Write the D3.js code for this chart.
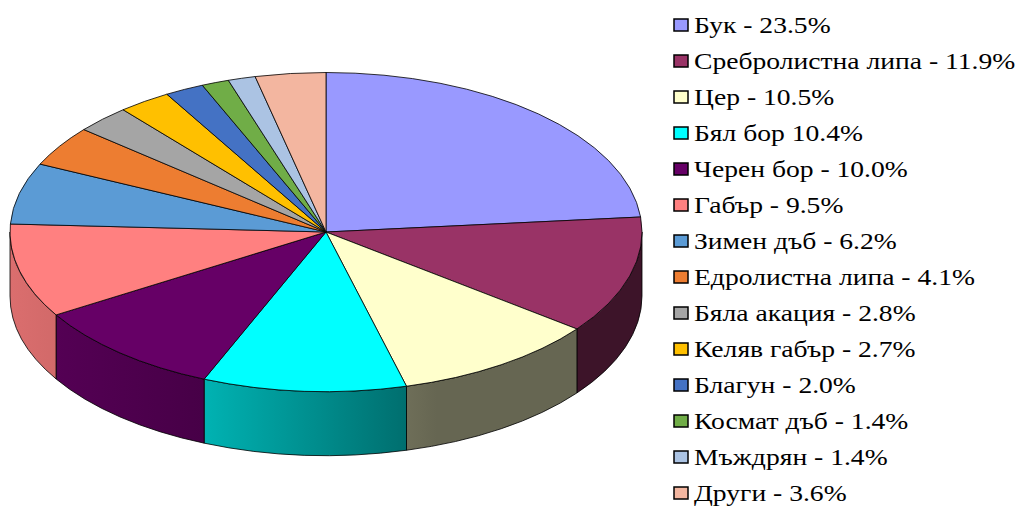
<!DOCTYPE html>
<html>
<head>
<meta charset="utf-8">
<script src="https://cdn.jsdelivr.net/npm/d3@7"></script>
</head>
<body style="margin:0">
<div id="chart"></div>
<script>
const species = ["Бук", "Сребролистна липа", "Цер", "Бял бор", "Черен бор", "Габър", "Зимен дъб",
    "Едролистна липа", "Бяла акация", "Келяв габър", "Благун", "Космат дъб", "Мъждрян", "Други"];
const shares = [23.5, 11.9, 10.5, 10.4, 10.0, 9.5, 6.2, 4.1, 2.8, 2.7, 2.0, 1.4, 1.4, 3.6];
// legend texts as printed (note "Бял бор" has no dash)
const legendLabels = ["Бук - 23.5%", "Сребролистна липа - 11.9%", "Цер - 10.5%", "Бял бор 10.4%",
    "Черен бор - 10.0%", "Габър - 9.5%", "Зимен дъб - 6.2%", "Едролистна липа - 4.1%",
    "Бяла акация - 2.8%", "Келяв габър - 2.7%", "Благун - 2.0%", "Космат дъб - 1.4%",
    "Мъждрян - 1.4%", "Други - 3.6%"];
const colors = ["#9999ff", "#993366", "#ffffcc", "#00ffff", "#660066", "#ff8080", "#5b9bd5",
    "#ed7d31", "#a5a5a5", "#ffc000", "#4472c4", "#70ad47", "#abc3e3", "#f3b6a0"];

const W = 1024, H = 508;
const cx = 326, cy = 232, rx = 316, ry = 159.5, depth = 64;

const svg = d3.select("#chart").append("svg")
    .attr("width", W)
    .attr("height", H);

const color = d3.scaleOrdinal().domain(species).range(colors);

const pie = d3.pie().sort(null).value((d, i) => shares[i]);
const arcs = pie(species);

// project an angle (clockwise from 12 o'clock) onto the tilted ellipse
function pt(a, dy) {
    return [cx + rx * Math.sin(a), cy - ry * Math.cos(a) + (dy || 0)];
}

function topPath(d) {
    const p0 = pt(d.startAngle), p1 = pt(d.endAngle);
    const large = d.endAngle - d.startAngle > Math.PI ? 1 : 0;
    return `M${cx},${cy}L${p0}A${rx},${ry} 0 ${large} 1 ${p1}Z`;
}

function sidePath(s0, s1) {
    const a = pt(s0), b = pt(s1), c = pt(s1, depth), e = pt(s0, depth);
    return `M${a}A${rx},${ry} 0 0 1 ${b}L${c}A${rx},${ry} 0 0 0 ${e}Z`;
}

// side shading: brightness depends on where the wall faces (light from the left)
const shadeStops = [[-1, 0.86], [-0.39, 0.70], [0.26, 0.43], [0.35, 0.40], [1, 0.40]];
const defs = svg.append("defs");

const sides = [];
arcs.forEach((d, i) => {
    const s0 = Math.max(d.startAngle, Math.PI / 2);
    const s1 = Math.min(d.endAngle, Math.PI * 1.5);
    if (s1 > s0) sides.push({ i, s0, s1 });
});

sides.forEach(s => {
    const base = d3.rgb(color(species[s.i]));
    const g = defs.append("linearGradient")
        .attr("id", "side" + s.i)
        .attr("gradientUnits", "userSpaceOnUse")
        .attr("x1", cx - rx).attr("x2", cx + rx)
        .attr("y1", 0).attr("y2", 0);
    shadeStops.forEach(([t, k]) => {
        g.append("stop")
            .attr("offset", (t + 1) / 2)
            .attr("stop-color", d3.rgb(base.r * k, base.g * k, base.b * k).formatHex());
    });
});

svg.append("g")
    .selectAll("path")
    .data(sides)
    .join("path")
    .attr("d", s => sidePath(s.s0, s.s1))
    .attr("fill", s => `url(#side${s.i})`)
    .attr("stroke", "#000")
    .attr("stroke-width", 0.8)
    .attr("stroke-linejoin", "round");

svg.append("g")
    .selectAll("path")
    .data(arcs)
    .join("path")
    .attr("d", topPath)
    .attr("fill", d => color(d.data))
    .attr("stroke", "#000")
    .attr("stroke-width", 0.8)
    .attr("stroke-linejoin", "round");

// legend (text in the original is a bit stretched sideways)
const rowY = d3.scalePoint().domain(species).range([33, 33 + 36 * 13]);
const stretch = 1.15;

svg.append("g")
    .selectAll("rect")
    .data(species)
    .join("rect")
    .attr("x", 674)
    .attr("y", d => rowY(d) - 14)
    .attr("width", 14)
    .attr("height", 12)
    .attr("fill", d => color(d))
    .attr("stroke", "#000")
    .attr("stroke-width", 1.5);

svg.append("g")
    .selectAll("text")
    .data(species)
    .join("text")
    .attr("transform", d => `translate(694,${rowY(d)}) scale(${stretch},1)`)
    .attr("font-family", "Liberation Serif")
    .attr("font-size", 24)
    .attr("fill", "#000")
    .text((d, i) => legendLabels[i]);
</script>
</body>
</html>
